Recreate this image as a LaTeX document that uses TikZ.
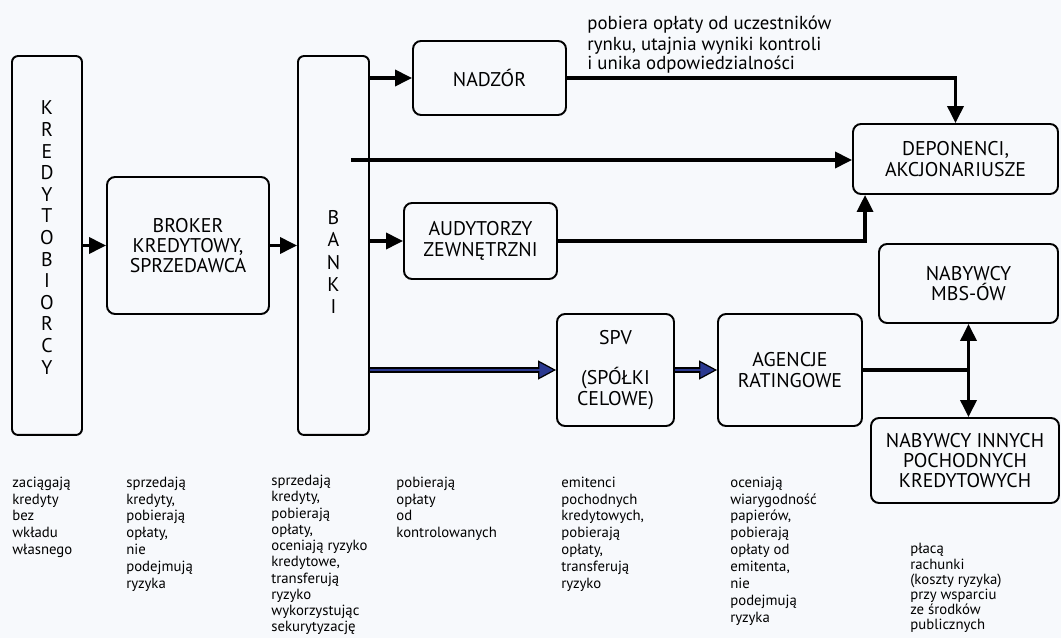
\documentclass[tikz,border=0pt]{standalone}
\usepackage{fontspec}
\setmainfont{PT Sans}
\usetikzlibrary{arrows.meta, positioning}

\definecolor{bgpaper}{RGB}{247,249,252}
\definecolor{spvblue}{RGB}{43,57,144}

\begin{document}
\begin{tikzpicture}[x=0.02cm, y=-0.02cm,
    box/.style={draw, line width=1.1pt, rounded corners=0.16cm, inner sep=0pt, align=center,
        font=\fontsize{11.3}{11.6}\selectfont},
    vtext/.style={inner sep=0pt, align=center, font=\fontsize{11.3}{12.3}\selectfont},
    arr/.style={line width=2pt, -{Triangle[length=0.34cm, width=0.32cm]}},
    plain/.style={line width=2pt, line cap=rect},
    bluearr/.style={line width=2.9pt, -{Triangle[length=0.36cm, width=0.38cm, fill=spvblue, line width=0.7pt]},
        postaction={draw=spvblue, line width=1.4pt, -, shorten >=0.33cm}},
    note/.style={anchor=north west, inner sep=0pt, align=left, font=\fontsize{8.4}{9.6}\selectfont}]

    % Background and page size
    \fill[bgpaper] (0,0) rectangle (1061,638);
    \useasboundingbox (0,0) rectangle (1061,638);

    % Define the boxes
    \node[box, minimum width=1.4cm, minimum height=7.58cm, rounded corners=0.12cm] (kred) at (47,245.5) {};
    \node[vtext] (kredtxt) at (47,237.5) {K\\R\\E\\D\\Y\\T\\O\\B\\I\\O\\R\\C\\Y};
    \node[box, minimum width=3.24cm, minimum height=2.74cm] (broker) at (188,245.5) {BROKER\\KREDYTOWY,\\SPRZEDAWCA};
    \node[box, minimum width=1.42cm, minimum height=7.58cm, rounded corners=0.12cm] (banki) at (333.5,245.5) {};
    \node[vtext, font=\fontsize{11.3}{12.75}\selectfont] (bankitxt) at (333.5,262) {B\\A\\N\\K\\I};
    \node[box, minimum width=3.06cm, minimum height=1.48cm] (nadzor) at (489.5,78) {NADZÓR};
    \node[box, minimum width=3.06cm, minimum height=1.52cm] (audyt) at (480.5,241) {AUDYTORZY\\ZEWNĘTRZNI};
    \node[box, minimum width=2.34cm, minimum height=2.24cm] (spv) at (615.5,370) {SPV\\[0.4cm](SPÓŁKI\\CELOWE)};
    \node[box, minimum width=2.88cm, minimum height=2.24cm] (agencje) at (790,370) {AGENCJE\\RATINGOWE};
    \node[box, minimum width=4.1cm, minimum height=1.4cm] (depon) at (955.5,159) {DEPONENCI,\\AKCJONARIUSZE};
    \node[box, minimum width=3.58cm, minimum height=1.58cm] (mbs) at (968.5,283.5) {NABYWCY\\MBS-ÓW};
    \node[box, minimum width=3.76cm, minimum height=1.7cm] (inne) at (965,460.5) {NABYWCY INNYCH\\POCHODNYCH\\KREDYTOWYCH};

    % Connectors
    \draw[arr] (kred) -- (broker);
    \draw[arr] (broker) -- (banki);
    \draw[arr] (banki.east |- nadzor.west) -- (nadzor.west);
    \draw[arr] (nadzor.east) -| (depon.north);
    \coordinate (bline) at (351,160);
    \draw[arr] (bline) -- (bline -| depon.west);
    \draw[arr] (banki.east |- audyt.west) -- (audyt.west);
    \draw[arr] (audyt.east) -| ([xshift=0.26cm]depon.south west);
    \draw[bluearr] (banki.east |- spv.west) -- (spv.west);
    \draw[bluearr] (spv) -- (agencje);
    \coordinate (split) at (agencje.east -| mbs.south);
    \draw[plain] (agencje.east) -- (split);
    \draw[arr] (split) -- (mbs.south);
    \draw[arr] (split) -- (split |- inne.north);

    % Notes
    \node[note, font=\fontsize{10.7}{9.9}\selectfont] (nadzornote) at (587,16)
        {\strut pobiera opłaty od uczestników\\rynku, utajnia wyniki kontroli\\i unika odpowiedzialności};
    \node[note] (krednote) at (12,475) {\strut zaciągają\\kredyty\\bez\\wkładu\\własnego};
    \node[note] (brokernote) at (126,475) {\strut sprzedają\\kredyty,\\pobierają\\opłaty,\\nie\\podejmują\\ryzyka};
    \node[note, font=\fontsize{8.4}{9.25}\selectfont] (bankinote) at (271,474) {\strut sprzedają\\kredyty,\\pobierają\\opłaty,\\oceniają ryzyko\\kredytowe,\\transferują\\ryzyko\\wykorzystując\\sekurytyzację};
    \node[note] (nadzornote2) at (396,475) {\strut pobierają\\opłaty\\od\\kontrolowanych};
    \node[note] (spvnote) at (561,475) {\strut emitenci\\pochodnych\\kredytowych,\\pobierają\\opłaty,\\transferują\\ryzyko};
    \node[note] (agencjenote) at (730,475) {\strut oceniają\\wiarygodność\\papierów,\\pobierają\\opłaty od\\emitenta,\\nie\\podejmują\\ryzyka};
    \node[note, font=\fontsize{8.4}{8.6}\selectfont] (innenote) at (910,543) {\strut płacą\\rachunki\\(koszty ryzyka)\\przy wsparciu\\ze środków\\publicznych};
\end{tikzpicture}
\end{document}
